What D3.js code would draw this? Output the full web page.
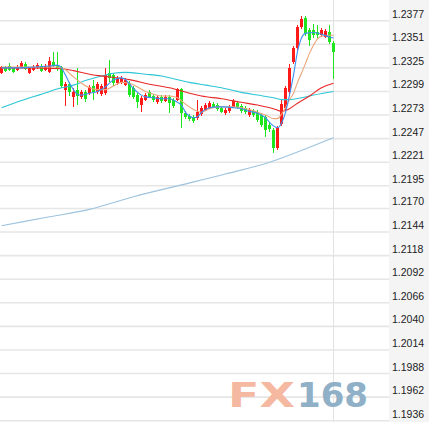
<!DOCTYPE html>
<html><head><meta charset="utf-8">
<script src="https://cdn.jsdelivr.net/npm/d3@7/dist/d3.min.js"></script>
<style>html,body{margin:0;padding:0;background:#fff;overflow:hidden}</style>
</head><body><svg id="c" width="429" height="422"></svg>
<script>
// candles: [open, high, low, close]
const candles = [
[1.2319,1.2327,1.2318,1.2326],[1.2325,1.2327,1.2320,1.2322],[1.2327,1.2330,1.2322,1.2323],[1.2325,1.2326,1.2319,1.2320],
[1.2323,1.2328,1.2322,1.2326],[1.2326,1.2333,1.2325,1.2330],[1.2329,1.2332,1.2323,1.2324],[1.2319,1.2326,1.2318,1.2325],
[1.2323,1.2328,1.2322,1.2326],[1.2325,1.2330,1.2324,1.2328],[1.2327,1.2329,1.2320,1.2322],[1.2323,1.2329,1.2322,1.2327],
[1.2320,1.2337,1.2319,1.2333],[1.2332,1.2343,1.2326,1.2327],[1.2328,1.2343,1.2322,1.2324],[1.2326,1.2327,1.2303,1.2305],
[1.2301,1.2309,1.2283,1.2307],[1.2307,1.2309,1.2294,1.2298],[1.2293,1.2303,1.2282,1.2298],[1.2301,1.2325,1.2284,1.2294],
[1.2293,1.2301,1.2291,1.2298],[1.2298,1.2301,1.2287,1.2291],[1.2297,1.2306,1.2295,1.2304],[1.2305,1.2312,1.2290,1.2298],
[1.2298,1.2309,1.2296,1.2307],[1.2296,1.2307,1.2294,1.2305],[1.2297,1.2325,1.2295,1.2317],[1.2319,1.2334,1.2309,1.2314],
[1.2317,1.2319,1.2305,1.2308],[1.2308,1.2316,1.2306,1.2314],[1.2309,1.2316,1.2307,1.2314],[1.2306,1.2314,1.2305,1.2312],
[1.2308,1.2311,1.2293,1.2295],[1.2303,1.2305,1.2291,1.2293],[1.2295,1.2297,1.2281,1.2287],[1.2284,1.2294,1.2276,1.2292],
[1.2290,1.2297,1.2289,1.2295],[1.2298,1.2301,1.2292,1.2293],[1.2294,1.2296,1.2287,1.2290],[1.2287,1.2295,1.2285,1.2293],
[1.2293,1.2295,1.2286,1.2289],[1.2289,1.2295,1.2287,1.2293],[1.2293,1.2295,1.2275,1.2286],[1.2290,1.2292,1.2281,1.2283],
[1.2290,1.2303,1.2289,1.2302],[1.2302,1.2303,1.2259,1.2275],[1.2275,1.2277,1.2269,1.2271],[1.2272,1.2274,1.2266,1.2269],
[1.2271,1.2273,1.2264,1.2266],[1.2270,1.2290,1.2268,1.2276],[1.2274,1.2283,1.2272,1.2281],[1.2279,1.2286,1.2277,1.2284],
[1.2281,1.2289,1.2280,1.2286],[1.2285,1.2287,1.2281,1.2282],[1.2284,1.2286,1.2277,1.2280],[1.2281,1.2283,1.2275,1.2276],
[1.2275,1.2281,1.2273,1.2279],[1.2277,1.2284,1.2275,1.2282],[1.2282,1.2291,1.2281,1.2289],[1.2286,1.2289,1.2280,1.2282],
[1.2283,1.2285,1.2275,1.2277],[1.2281,1.2283,1.2274,1.2276],[1.2273,1.2281,1.2271,1.2279],[1.2277,1.2280,1.2271,1.2273],
[1.2276,1.2279,1.2265,1.2268],[1.2273,1.2275,1.2260,1.2262],[1.2271,1.2273,1.2249,1.2257],[1.2262,1.2265,1.2254,1.2258],
[1.2257,1.2259,1.2231,1.2237],[1.2237,1.2261,1.2234,1.2259],[1.2263,1.2290,1.2261,1.2285],[1.2281,1.2305,1.2279,1.2303],
[1.2298,1.2329,1.2296,1.2325],[1.2332,1.2349,1.2329,1.2347],[1.2347,1.2372,1.2345,1.2370],[1.2370,1.2382,1.2368,1.2379],
[1.2380,1.2382,1.2360,1.2363],[1.2367,1.2369,1.2349,1.2356],[1.2367,1.2373,1.2358,1.2361],[1.2364,1.2372,1.2358,1.2361],
[1.2361,1.2369,1.2359,1.2367],[1.2359,1.2368,1.2358,1.2366],[1.2364,1.2372,1.2351,1.2354],[1.2352,1.2355,1.2313,1.2343]
];
// moving averages: [candle index, value]
const maBlue = [[0,1.2325],[4,1.2325],[8,1.2326],[12,1.2327],[14,1.2328],[15,1.2325],[16,1.2317],[17,1.2308],[18,1.2301],[19,1.2296],[20,1.2295],[22,1.2297],[24,1.2299],[26,1.2304],[28,1.2312],[30,1.2314],[31,1.2312],[32,1.2307],[34,1.2298],[36,1.2293],[38,1.2292],[40,1.2291],[42,1.2291],[44,1.2287],[45,1.2284],[46,1.2276],[47,1.2272],[48,1.2270],[49,1.2271],[50,1.2276],[52,1.2281],[54,1.2282],[56,1.2282],[58,1.2281],[60,1.2280],[62,1.2277],[64,1.2275],[66,1.2270],[67,1.2265],[68,1.2261],[69,1.2259],[70,1.2264],[71,1.2276],[72,1.2295],[73,1.2317],[74,1.2343],[75,1.2358],[76,1.2363],[78,1.2364],[80,1.2362],[82,1.2359],[83,1.2358]];
const maTan = [[0,1.2326],[8,1.2326],[14,1.2326],[15,1.2325],[16,1.2323],[17,1.2319],[18,1.2315],[20,1.2308],[22,1.2303],[24,1.2301],[26,1.2301],[28,1.2305],[30,1.2309],[32,1.2308],[34,1.2304],[36,1.2299],[38,1.2296],[40,1.2294],[42,1.2294],[44,1.2292],[46,1.2285],[48,1.2279],[50,1.2276],[52,1.2280],[54,1.2282],[56,1.2282],[58,1.2282],[60,1.2281],[62,1.2279],[64,1.2276],[66,1.2273],[68,1.2269],[69,1.2269],[70,1.2274],[71,1.2281],[72,1.2290],[73,1.2297],[74,1.2309],[75,1.2319],[76,1.2330],[77,1.2341],[78,1.2350],[79,1.2357],[80,1.2360],[82,1.2361],[83,1.2361]];
const maRed = [[0,1.2325],[7,1.2325],[15,1.2324],[18,1.2322],[22,1.2318],[27,1.2315],[32,1.2312],[37,1.2307],[43,1.2302],[47,1.2297],[50,1.2294],[55,1.2291],[60,1.2287],[64,1.2284],[68,1.2280],[70,1.2277],[72,1.2280],[74,1.2286],[77,1.2294],[80,1.2303],[83,1.2308]];
const maCyan = [[0,1.2281],[5,1.2289],[10,1.2296],[15,1.2303],[18,1.2306],[21,1.2311],[25,1.2316],[28,1.2319],[31,1.2320],[36,1.2318],[40,1.2316],[43,1.2313],[47,1.2309],[51,1.2306],[55,1.2303],[60,1.2298],[64,1.2295],[68,1.2292],[70,1.2290],[72,1.2290],[75,1.2292],[78,1.2295],[83,1.2299]];
const maLong = [[0,1.2151],[11,1.2160],[22,1.2169],[33,1.2183],[45,1.2196],[56,1.2208],[67,1.2221],[75,1.2234],[83,1.2248]];
const yTicks = ["1.2377","1.2351","1.2325","1.2299","1.2273","1.2247","1.2221","1.2195","1.2170","1.2144","1.2118","1.2092","1.2066","1.2040","1.2014","1.1988","1.1962","1.1936"];

const W = 429, H = 422;
const svg = d3.select("#c");
const y = d3.scaleLinear().domain([1.1936, 1.2377]).range([420.7, 20.7]);
const x = d3.scaleLinear().domain([0, candles.length - 1]).range([1.5, 333.5]);

svg.append("rect").attr("width", W).attr("height", H).attr("fill", "#fff");
svg.append("rect").attr("x", 389).attr("y", 0).attr("width", W - 389).attr("height", H).attr("fill", "#f4f4f4");

// gridlines
svg.append("g").selectAll("line").data(yTicks).join("line")
  .attr("x1", 0).attr("x2", 389)
  .attr("y1", d => y(+d)).attr("y2", d => y(+d))
  .attr("stroke", "#e6e6e6").attr("stroke-width", 1.6);
svg.append("line").attr("x1", 333.5).attr("x2", 333.5).attr("y1", 0).attr("y2", H)
  .attr("stroke", "#e2e2e2").attr("stroke-width", 1);

// axis labels
svg.append("g").selectAll("text").data(yTicks).join("text")
  .attr("x", 392).attr("y", d => y(+d) - 3)
  .attr("font-family", "'Liberation Sans', Arial, sans-serif").attr("font-size", 10.5)
  .attr("fill", "#222").text(d => d);

// watermark
const wm = svg.append("g").attr("font-family", "'DejaVu Sans', sans-serif").attr("font-weight", "bold").attr("font-size", 33);
wm.append("text").attr("x", 228).attr("y", 407).attr("textLength", 67).attr("lengthAdjust", "spacingAndGlyphs")
  .attr("fill", "#f5b8a0").text("FX");
wm.append("text").attr("x", 297).attr("y", 407).attr("textLength", 71).attr("lengthAdjust", "spacingAndGlyphs")
  .attr("fill", "#8fb0c6").text("168");

// candles
const up = "#ff1a1a", down = "#1ee61e";
const cg = svg.append("g").attr("shape-rendering", "crispEdges");
cg.selectAll("line").data(candles).join("line")
  .attr("x1", (d, i) => x(i)).attr("x2", (d, i) => x(i))
  .attr("y1", d => y(d[1])).attr("y2", d => y(d[2]))
  .attr("stroke", d => d[3] >= d[0] ? up : down).attr("stroke-width", 1);
cg.selectAll("rect").data(candles).join("rect")
  .attr("x", (d, i) => x(i) - 1.5).attr("width", 3)
  .attr("y", d => y(Math.max(d[0], d[3])))
  .attr("height", d => Math.max(1, Math.abs(y(d[0]) - y(d[3]))))
  .attr("fill", d => d[3] >= d[0] ? up : down);

// moving averages
const line = d3.line().x(d => x(d[0])).y(d => y(d[1])).curve(d3.curveMonotoneX);
[[maLong, "#9ec3de"], [maCyan, "#2cc6d6"], [maRed, "#e82828"], [maTan, "#eaa67a"], [maBlue, "#3d8ff0"]]
  .forEach(([data, col]) => {
    svg.append("path").datum(data).attr("d", line).attr("fill", "none")
      .attr("stroke", col).attr("stroke-width", 1.1);
  });
</script></body></html>
